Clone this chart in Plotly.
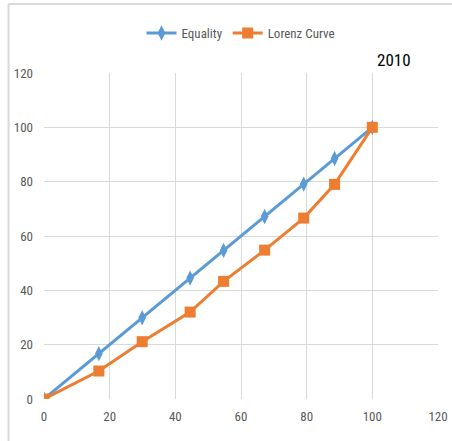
import plotly.graph_objects as go

# Cumulative share of population (%)
population = [0, 16.7, 29.9, 44.5, 54.7, 67.2, 79.1, 88.5, 100]
# Line of perfect equality
equality = [0, 16.7, 29.9, 44.5, 54.7, 67.2, 79.1, 88.5, 100]
# Cumulative share of income (%)
lorenz = [0, 10.3, 21.1, 32.0, 43.3, 54.8, 66.6, 79.0, 100]

tick_vals = [0, 20, 40, 60, 80, 100, 120]

BLUE = "#5B9BD5"
ORANGE = "#ED7D31"
FONT = "Roboto Condensed, Liberation Sans Narrow, DejaVu Sans Condensed, Roboto, sans-serif"

fig = go.Figure()
fig.add_trace(go.Scatter(
    x=population, y=equality, name="Equality", mode="lines+markers",
    line=dict(color=BLUE, width=3),
    marker=dict(symbol="diamond-tall", size=11, color=BLUE),
))
fig.add_trace(go.Scatter(
    x=population, y=lorenz, name="Lorenz Curve", mode="lines+markers",
    line=dict(color=ORANGE, width=3),
    marker=dict(symbol="square", size=11, color=ORANGE),
))

axis_common = dict(
    range=[0, 120], tickvals=tick_vals, showgrid=True, gridcolor="#d9d9d9",
    gridwidth=1, zeroline=False, showline=False, ticks="", automargin=False,
    tickfont=dict(family=FONT, size=13, color="#595959"), fixedrange=True,
)
fig.update_xaxes(**axis_common, ticklabelstandoff=8)
fig.update_yaxes(**axis_common, ticklabelstandoff=10)

fig.update_layout(
    width=452, height=441, autosize=False,
    margin=dict(l=44, r=14, t=73, b=42, autoexpand=False),
    paper_bgcolor="white", plot_bgcolor="white",
    font=dict(family=FONT),
    showlegend=True,
    legend=dict(
        orientation="h", x=0.5, xanchor="center", y=0.925, yanchor="middle",
        yref="container", font=dict(family=FONT, size=13, color="#595959"),
    ),
    annotations=[dict(
        text="2010", x=100, y=1.0, xref="x", yref="paper",
        xanchor="left", yanchor="bottom", yshift=1, xshift=3, showarrow=False,
        font=dict(family=FONT, size=17, color="black"),
    )],
    shapes=[
        dict(type="line", xref="paper", yref="paper", x0=-0.09, x1=1.2,
             y0=1.212, y1=1.212, line=dict(color="#d9d9d9", width=2)),
        dict(type="line", xref="paper", yref="paper", x0=-0.09, x1=-0.09,
             y0=1.212, y1=-0.2, line=dict(color="#d9d9d9", width=2)),
    ],
)

fig.write_html("out.html")
